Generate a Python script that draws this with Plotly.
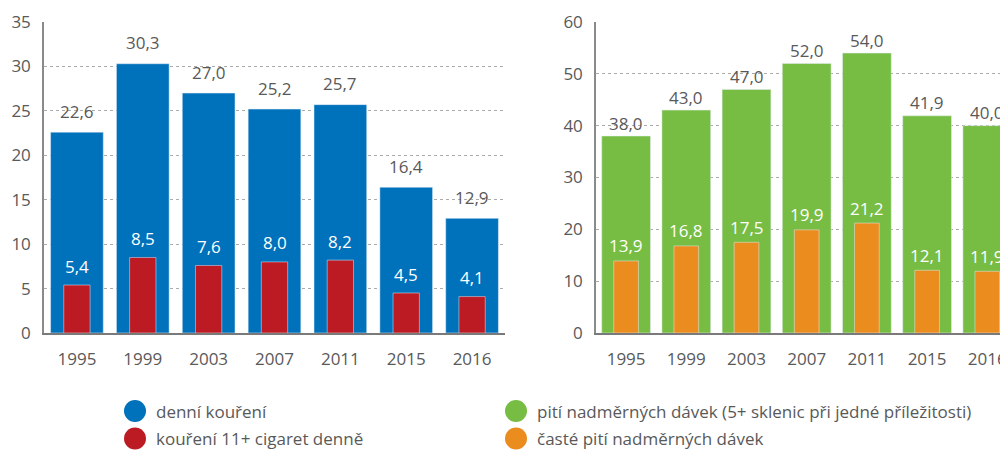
import plotly.graph_objects as go

years = ["1995", "1999", "2003", "2007", "2011", "2015", "2016"]
daily_smoking = [22.6, 30.3, 27.0, 25.2, 25.7, 16.4, 12.9]
heavy_smoking = [5.4, 8.5, 7.6, 8.0, 8.2, 4.5, 4.1]
binge_drinking = [38.0, 43.0, 47.0, 52.0, 54.0, 41.9, 40.0]
frequent_binge = [13.9, 16.8, 17.5, 19.9, 21.2, 12.1, 11.9]

names = ["denní kouření", "kouření 11+ cigaret denně",
         "pití nadměrných dávek (5+ sklenic při jedné příležitosti)",
         "časté pití nadměrných dávek"]
colors = ["#0071bb", "#bd1b23", "#77bd43", "#ea8c1e"]

FONT = "Open Sans"
TXT = "#595959"


def fmt(v):
    return f"{v:.1f}".replace(".", ",")


fig = go.Figure()
fig.add_trace(go.Bar(x=years, y=daily_smoking, width=0.8, marker_color=colors[0],
                     xaxis="x", yaxis="y", showlegend=False, hoverinfo="skip"))
fig.add_trace(go.Bar(x=years, y=heavy_smoking, width=0.4, marker_color=colors[1],
                     xaxis="x", yaxis="y", showlegend=False, hoverinfo="skip"))
fig.add_trace(go.Bar(x=years, y=binge_drinking, width=0.81, marker_color=colors[2],
                     xaxis="x2", yaxis="y2", showlegend=False, hoverinfo="skip"))
fig.add_trace(go.Bar(x=years, y=frequent_binge, width=0.41, marker_color=colors[3],
                     xaxis="x2", yaxis="y2", showlegend=False, hoverinfo="skip"))

ann = []
specs = [(daily_smoking, "x", "y", TXT, 21), (heavy_smoking, "x", "y", "white", 19),
         (binge_drinking, "x2", "y2", TXT, 13), (frequent_binge, "x2", "y2", "white", 15)]
for vals, xr, yr_, col, ys in specs:
    for i, v in enumerate(vals):
        ann.append(dict(x=i, y=v, xref=xr, yref=yr_, text=fmt(v), showarrow=False,
                        yanchor="middle", yshift=ys, font=dict(color=col, size=17, family=FONT)))

# page geometry (browser body has an 8px margin)
OFF = 8
PL, PT, PBOT, PR = 44, 22, 333, 1008          # plot area in page pixels
PW, PH = PR - PL, PBOT - PT


def px_to_paper(px, py):
    return (px - PL) / PW, (PBOT - py) / PH


legend_pos = [(135, 154, 411), (135, 154, 438.5), (516, 535, 411), (516, 535, 438.5)]
shapes = []
for (cx, tx, cy), nm, col in zip(legend_pos, names, colors):
    xc, yc = px_to_paper(cx, cy)
    xt, _ = px_to_paper(tx, cy)
    shapes.append(dict(type="circle", xref="paper", yref="paper", xsizemode="pixel",
                       ysizemode="pixel", xanchor=xc, yanchor=yc, x0=-11, x1=11, y0=-11, y1=11,
                       fillcolor=col, line=dict(width=0)))
    ann.append(dict(x=xt, y=yc, xref="paper", yref="paper", text=nm, showarrow=False,
                    xanchor="left", yanchor="middle", font=dict(color=TXT, size=17, family=FONT)))

grid = dict(showgrid=True, gridcolor="#ababab", gridwidth=1, griddash="dot", zeroline=False,
            showline=True, linecolor="#8a8a8a", linewidth=1.5, ticks="",
            tickfont=dict(color=TXT, size=17, family=FONT), ticklabelstandoff=8)
xax = dict(type="category", showgrid=False, zeroline=False, showline=True, linecolor="#7a7a7a",
           linewidth=2, ticks="", tickfont=dict(color=TXT, size=17, family=FONT),
           ticklabelstandoff=10)

d1 = (505 - PL) / PW
d2 = (596 - PL) / PW
FW, FH = 1008 - OFF, 450 - OFF
fig.update_layout(
    width=FW, height=FH,
    margin=dict(l=PL - OFF, r=FW - (PR - OFF), t=PT - OFF, b=FH - (PBOT - OFF)),
    paper_bgcolor="white", plot_bgcolor="white",
    barmode="overlay",
    showlegend=False,
    xaxis=dict(domain=[0, d1], range=[-0.5, 6.5], anchor="y", **xax),
    yaxis=dict(domain=[0, 1], range=[0, 35], dtick=5, anchor="x", **grid),
    xaxis2=dict(domain=[d2, 1], range=[-0.5, 6.344], anchor="y2", **xax),
    yaxis2=dict(domain=[0, 1], range=[0, 60], dtick=10, anchor="x2", **grid),
    annotations=ann,
    shapes=shapes,
    font=dict(family=FONT, color=TXT),
)

fig.write_html("out.html")
